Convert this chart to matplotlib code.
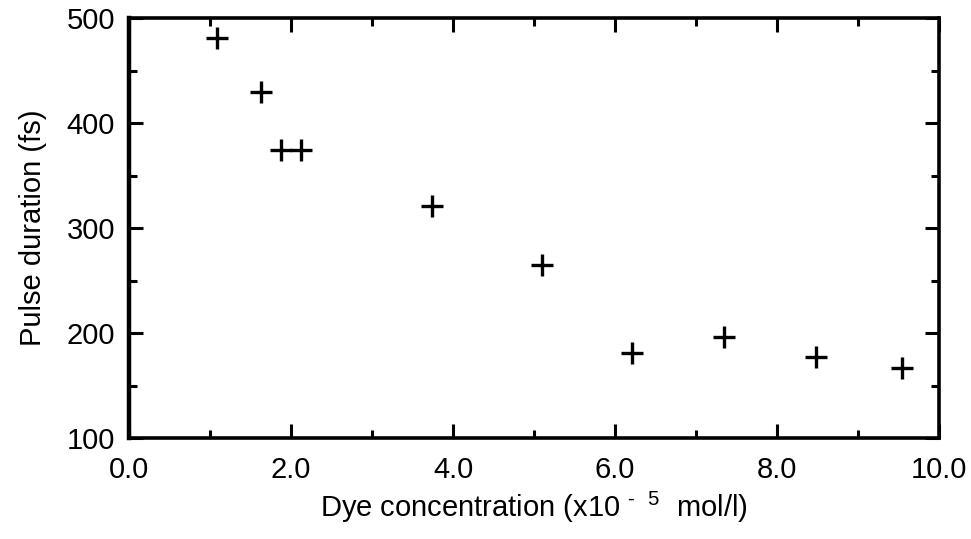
import matplotlib
matplotlib.use("Agg")
import matplotlib.pyplot as plt
from matplotlib.ticker import MultipleLocator, FormatStrFormatter

# data
conc = [1.09, 1.63, 1.88, 2.12, 3.74, 5.10, 6.21, 7.35, 8.48, 9.54]
duration = [481, 430, 374, 374, 321, 265, 181, 196, 177, 167]

plt.rcParams['font.family'] = ['Liberation Sans', 'DejaVu Sans']
plt.rcParams['mathtext.default'] = 'regular'

fig = plt.figure(figsize=(9.71, 5.39), dpi=100)
ax = fig.add_axes([129/971, 1 - 438/539, (939-129)/971, (438-18)/539])

ax.plot(conc, duration, linestyle='none', marker='+', color='black',
        markersize=16, markeredgewidth=2.4)

ax.set_xlim(0, 10)
ax.set_ylim(100, 500)
ax.xaxis.set_major_locator(MultipleLocator(2))
ax.xaxis.set_minor_locator(MultipleLocator(1))
ax.yaxis.set_major_locator(MultipleLocator(100))
ax.yaxis.set_minor_locator(MultipleLocator(50))
ax.xaxis.set_major_formatter(FormatStrFormatter('%.1f'))

for s in ax.spines.values():
    s.set_linewidth(2.6)
ax.spines['left'].set_linewidth(3.2)
ax.tick_params(which='both', direction='in', top=True, right=True,
               width=2.2, labelsize=21)
ax.tick_params(axis='x', pad=13)
ax.tick_params(axis='y', pad=10)
ax.tick_params(which='major', length=10)
ax.tick_params(which='minor', length=6)

ax.set_xlabel('Dye concentration (x10 $^{\u2010\\ \\ 5}$  mol/l)', fontsize=21, labelpad=4)
ax.set_ylabel('Pulse duration (fs)', fontsize=21, labelpad=14)

fig.savefig('out.png', dpi=100)
